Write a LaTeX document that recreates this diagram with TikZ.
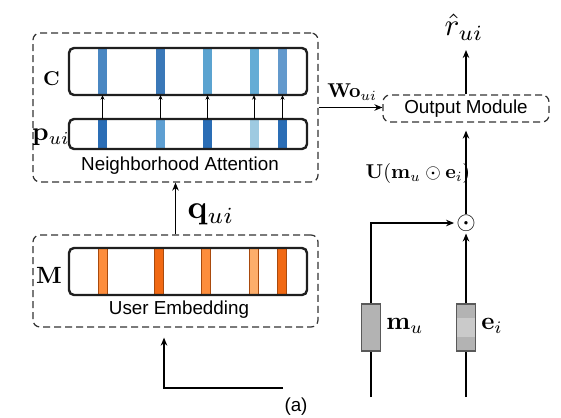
\documentclass[tikz,border=0pt]{standalone}
\usepackage[no-math]{fontspec}
\usepackage{graphicx}
\newfontfamily\labelfont{Liberation Sans}
\usetikzlibrary{arrows.meta}
\definecolor{cA}{HTML}{4A87C2}
\definecolor{cB}{HTML}{3A78B8}
\definecolor{cC}{HTML}{5BA3D0}
\definecolor{cD}{HTML}{64ACD5}
\definecolor{cE}{HTML}{6399CC}
\definecolor{pA}{HTML}{2A6DB5}
\definecolor{pB}{HTML}{5E9FD2}
\definecolor{pD}{HTML}{9ECAE1}
\definecolor{oA}{HTML}{FD8D3C}
\definecolor{oB}{HTML}{F16913}
\definecolor{oD}{HTML}{FDAE6B}
\definecolor{gbox}{HTML}{B3B3B3}
\definecolor{gband}{HTML}{CACACA}
\newcommand{\mlab}[2]{\scalebox{#1}{$#2$}}
\begin{document}
\begin{tikzpicture}[x=1pt,y=-1pt,
  dbox/.style={draw=black!80, dash pattern=on 7pt off 4pt, line width=1.25pt, rounded corners=7pt, inner sep=0pt},
  bar/.style={draw=black!88, line width=2.4pt, rounded corners=5pt, inner sep=0pt, minimum width=238pt},
  stripe/.style={inner sep=0pt, minimum width=9pt},
  arr/.style={-{Stealth[length=8pt,width=6.5pt]}, line width=1.7pt},
  sarr/.style={-{Stealth[length=4.5pt,width=4pt]}, line width=0.8pt},
  lbl/.style={font=\fontsize{18.8}{20}\selectfont\labelfont, inner sep=0pt},
  mth/.style={inner sep=0pt, font=\fontsize{10}{12}\selectfont},
  gray box/.style={draw=black!65, fill=gbox, line width=1.1pt, inner sep=0pt, minimum width=19pt, minimum height=47pt}]
\useasboundingbox (0,0) rectangle (561,417);

% Neighborhood attention
\node[dbox, minimum width=285pt, minimum height=149pt] (NA) at (175.5,107.5) {};
\foreach \x/\cc/\pc [count=\i] in {102.5/cA/pA, 160.5/cB/pB, 207.5/cC/pA, 254/cD/pD, 282.5/cE/pA}{
  \node[stripe, fill=\cc, minimum height=47pt] (c\i) at (\x,71.5) {};
  \node[stripe, fill=\pc, minimum height=30pt] (p\i) at (\x,134) {};
}
\node[bar, minimum height=47pt] (C) at (188,71.5) {};
\node[bar, minimum height=30pt] (P) at (188,134) {};
\foreach \i in {1,...,5}{ \draw[sarr] (p\i) -- (c\i); }
\node[mth] (Clab) at (51.5,78.5) {\mlab{2.0}{\mathbf{C}}};
\node[mth] (Plab) at (51,137) {\mlab{2.6}{\mathbf{p}_{ui}}};
\node[lbl] (NAt) at (180,166) {Neighborhood Attention};

% User embedding
\node[dbox, minimum width=285pt, minimum height=92pt] (UE) at (175.5,281) {};
\foreach \x/\oc [count=\i] in {102.5/oA, 158.5/oB, 206/oA, 253.5/oD, 281.5/oB}{
  \node[stripe, fill=\oc, draw=oB!70!black, line width=0.4pt, minimum height=47pt] (m\i) at (\x,271.5) {};
}
\node[bar, minimum height=47pt] (M) at (188,271.5) {};
\node[mth] (Mlab) at (49,275.5) {\mlab{2.35}{\mathbf{M}}};
\node[lbl] (UEt) at (179,310) {User Embedding};

% q arrow
\draw[arr] (UE.north) -- (NA.south);
\node[mth] (qlab) at (211,214) {\mlab{3.3}{\mathbf{q}_{ui}}};

% Output module
\node[dbox, minimum width=166pt, minimum height=27pt] (Out) at (466,108.5) {};
\node[lbl] (Outt) at (466,108.5) {Output Module};
\draw[arr] (NA.east) -- (NA.east -| Out.west);
\node[mth] (Wlab) at (352,92) {\mlab{2.0}{\mathbf{Wo}_{ui}}};
\node[mth] (rhat) at (464,27) {\mlab{3.1}{\hat{r}_{ui}}};
\draw[arr] (Out.north) -- (Out.north |- 0,50);

% right side
\node[mth] (odot) at (466,223) {\mlab{2.5}{\odot}};
\draw[arr, shorten >=8pt] (odot) -- (Out.south);
\node[mth] (Ulab) at (418,173) {\mlab{2.0}{\mathbf{U}(\mathbf{m}_u\odot\mathbf{e}_i)}};

\node[gray box] (mb) at (371,327.5) {};
\node[gray box, path picture={\fill[gband] ([yshift=-14pt]path picture bounding box.north west) rectangle ([yshift=14pt]path picture bounding box.south east);}] (eb) at (466,327.5) {};
\node[mth] (mlabel) at (405,326) {\mlab{2.5}{\mathbf{m}_u}};
\node[mth] (elabel) at (492,326) {\mlab{2.5}{\mathbf{e}_i}};
\coordinate (mbot) at (371,397);
\coordinate (ebot) at (466,397);
\draw[line width=1.6pt] (mbot) -- (mb.south);
\draw[line width=1.6pt] (ebot) -- (eb.south);
\draw[arr, shorten >=2pt] (mb.north) |- (odot.west);
\draw[arr, shorten >=2pt] (eb.north) -- (odot.south);

% bottom
\coordinate (abot) at (283,388);
\draw[arr, shorten >=10pt] (abot) -| ([xshift=-11.5pt]UE.south);
\node[lbl] (alab) at (296,407) {(a)};
\end{tikzpicture}
\end{document}
